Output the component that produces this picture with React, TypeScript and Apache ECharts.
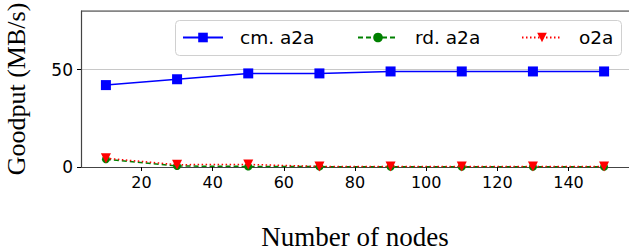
import React, { useEffect, useRef } from "react";
import * as echarts from "echarts";

const nodes = [10, 30, 50, 70, 90, 110, 130, 150];
const cmA2a = [42, 45, 48, 48, 49, 49, 49, 49];
const rdA2a = [4, 0.5, 0.3, 0.2, 0.1, 0.1, 0.1, 0.1];
const o2a = [4.5, 1.2, 1.3, 0.3, 0.3, 0.3, 0.3, 0.3];
const xTicks = [20, 40, 60, 80, 100, 120, 140];
const seriesNames = ["cm. a2a", "rd. a2a", "o2a"];

const pair = (ys: number[]) => nodes.map((x, i) => [x, ys[i]]);

export default function App() {
  const ref = useRef<HTMLDivElement>(null);
  useEffect(() => {
    const chart = echarts.init(ref.current!, null, { renderer: "svg" });
    const tickFont = { fontFamily: "DejaVu Sans", fontSize: 16, color: "#000" };
    const legendLefts = [182, 357, 521];
    chart.setOption({
      animation: false,
      grid: { left: 81, top: 11, right: 0, bottom: 84, containLabel: false, outerBoundsMode: "none" },
      legend: seriesNames.map((n, i) => ({
        left: legendLefts[i],
        top: 28,
        padding: 0,
        itemWidth: 40,
        itemHeight: 12,
        textStyle: { ...tickFont, fontSize: 18.5, padding: [0, 0, 0, 12] },
        data: [n],
        z: 20,
      })),
      xAxis: {
        type: "value",
        min: 3,
        max: 157,
        name: "Number of nodes",
        nameLocation: "middle",
        nameGap: 56,
        nameTextStyle: { fontFamily: "Liberation Serif", fontSize: 27, color: "#000" },
        axisLine: { show: true, lineStyle: { color: "#444", width: 1.2 } },
        axisTick: { show: true, length: 4, customValues: xTicks, lineStyle: { color: "#000" } },
        axisLabel: { ...tickFont, margin: 7, customValues: xTicks },
        splitLine: { show: false },
      },
      yAxis: {
        type: "value",
        min: 0,
        max: 80,
        interval: 50,
        name: "Goodput (MB/s)",
        nameLocation: "middle",
        nameGap: 52,
        nameTextStyle: { fontFamily: "Liberation Serif", fontSize: 26, color: "#000" },
        axisLine: { show: true, lineStyle: { color: "#444", width: 1.2 } },
        axisTick: { show: true, length: 4, lineStyle: { color: "#000" } },
        axisLabel: { ...tickFont, fontSize: 17, margin: 8, showMaxLabel: false },
        splitLine: { show: true, lineStyle: { color: "#c8c8c8", width: 1 } },
      },
      graphic: [
        { type: "line", shape: { x1: 81, y1: 11, x2: 629, y2: 11 }, style: { stroke: "#444", lineWidth: 1.2 }, z: 10 },
        {
          type: "rect",
          shape: { x: 175.5, y: 20.5, width: 446, height: 35, r: 4 },
          style: { fill: "rgba(255,255,255,0.85)", stroke: "#d0d0d0", lineWidth: 1 },
          z: 10,
        },
      ],
      series: [
        {
          name: "cm. a2a",
          type: "line",
          data: pair(cmA2a),
          symbol: "rect",
          symbolSize: 10,
          itemStyle: { color: "#0000ff" },
          lineStyle: { color: "#0000ff", width: 1.5, type: "solid" },
          z: 3,
        },
        {
          name: "rd. a2a",
          type: "line",
          data: pair(rdA2a),
          symbol: "circle",
          symbolSize: 8,
          itemStyle: { color: "#008000" },
          lineStyle: { color: "#008000", width: 1.5, type: [5, 3] },
          z: 4,
        },
        {
          name: "o2a",
          type: "line",
          data: pair(o2a),
          symbol: "triangle",
          symbolRotate: 180,
          symbolSize: 10,
          itemStyle: { color: "#ff0000" },
          lineStyle: { color: "#ff0000", width: 1.5, type: [1.5, 2.5] },
          z: 5,
        },
      ],
    });
    return () => chart.dispose();
  }, []);
  return <div ref={ref} style={{ width: 629, height: 251, position: "absolute", left: 0, top: 0 }} />;
}
